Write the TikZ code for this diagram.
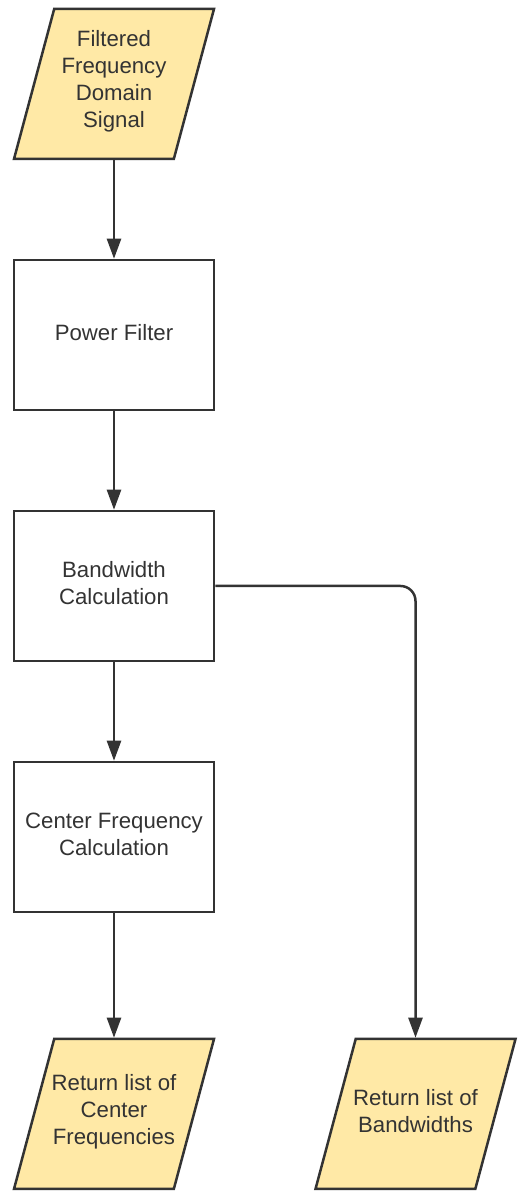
\documentclass[tikz,border=0pt]{standalone}
\usepackage{fontspec}
\setmainfont{Liberation Sans}
\usetikzlibrary{shapes.geometric,arrows.meta}
\definecolor{strokecol}{HTML}{333333}
\definecolor{iofill}{HTML}{FFE9A6}
% centred lines in a box of fixed size, so every shape keeps its size
\newcommand{\boxlines}[1]{\makebox[0pt]{\vbox to 150bp{\vss\halign{\hfil##\hfil\cr#1\crcr}\vss\kern5bp}}}
\tikzset{
  procbox/.style={draw=strokecol, line width=2.5bp, rectangle, minimum width=200bp,
    minimum height=150bp, text=strokecol, inner sep=0pt,
    font=\fontsize{22.2bp}{27bp}\selectfont},
  iobox/.style={procbox, fill=iofill, trapezium, trapezium left angle=75,
    trapezium right angle=105, trapezium stretches body=true},
  flow/.style={draw=strokecol, line width=2.5bp, rounded corners=15bp,
    -{Triangle[length=20bp,width=14bp]}}
}
\begin{document}
\begin{tikzpicture}
  \useasboundingbox (0,0) rectangle (525bp,1197bp);
  % Node: signal
  \node [iobox] (signal) at (114bp,1113bp) {\boxlines{Filtered\cr Frequency\cr Domain\cr Signal}};
  % Node: power
  \node [procbox] (power) at (114bp,862bp) {\boxlines{Power Filter}};
  % Node: bandwidth
  \node [procbox] (bandwidth) at (114bp,611bp) {\boxlines{Bandwidth\cr Calculation}};
  % Node: center
  \node [procbox] (center) at (114bp,360bp) {\boxlines{Center Frequency\cr Calculation}};
  % Node: centers_out
  \node [iobox] (centers_out) at (114bp,83bp) {\boxlines{Return list of\cr Center\cr Frequencies}};
  % Node: widths_out
  \node [iobox] (widths_out) at (415.5bp,83bp) {\boxlines{Return list of\cr Bandwidths}};
  % Edge: signal -> power
  \draw [flow] (signal) -- (power);
  % Edge: power -> bandwidth
  \draw [flow] (power) -- (bandwidth);
  % Edge: bandwidth -> center
  \draw [flow] (bandwidth) -- (center);
  % Edge: center -> centers_out
  \draw [flow] (center) -- (centers_out);
  % Edge: bandwidth -> widths_out
  \draw [flow] (bandwidth.east) -| (widths_out.north);
\end{tikzpicture}
\end{document}
